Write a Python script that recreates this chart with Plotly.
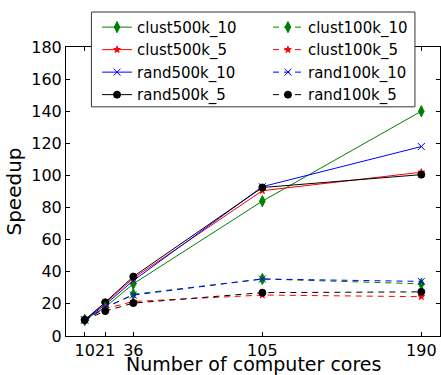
import plotly.graph_objects as go

cores = [10, 21, 36, 105, 190]
clust500k_10 = [10, 18, 32.5, 84, 140]
clust500k_5 = [10, 20.5, 36, 90.5, 102]
rand500k_10 = [10, 19.5, 34.5, 93, 118]
rand500k_5 = [10, 21, 37, 92.5, 100.5]
clust100k_10 = [10, 17.5, 26, 35.5, 32.5]
clust100k_5 = [10, 17, 21.5, 25.5, 24.5]
rand100k_10 = [10, 18, 25.5, 35.5, 34]
rand100k_5 = [10, 15.5, 20.5, 27, 27.5]

x_ticks = [10, 21, 36, 105, 190]
y_ticks = list(range(0, 181, 20))

FONT = "DejaVu Sans"

series = [
    ("clust500k_10", clust500k_10, "#008000", "diamond-tall", 8, "solid", "legend"),
    ("clust500k_5", clust500k_5, "#ff0000", "star", 5, "solid", "legend"),
    ("rand500k_10", rand500k_10, "#0000ff", "x-thin", 7, "solid", "legend"),
    ("rand500k_5", rand500k_5, "#000000", "circle", 7, "solid", "legend"),
    ("clust100k_10", clust100k_10, "#008000", "diamond-tall", 8, "6px,5px", "legend2"),
    ("clust100k_5", clust100k_5, "#ff0000", "star", 5, "6px,5px", "legend2"),
    ("rand100k_10", rand100k_10, "#0000ff", "x-thin", 7, "6px,5px", "legend2"),
    ("rand100k_5", rand100k_5, "#000000", "circle", 7, "6px,5px", "legend2"),
]

fig = go.Figure()
for name, vals, col, sym, size, dash, leg in series:
    fig.add_trace(go.Scatter(
        x=cores, y=vals, name=name, mode="lines+markers",
        line=dict(color=col, width=1, dash=dash),
        marker=dict(symbol=sym, size=size, color=col,
                    line=dict(color=col, width=1)),
        legend=leg,
    ))

axis_common = dict(
    showline=True, linecolor="#000000", linewidth=1, mirror="ticks",
    ticks="inside", ticklen=4, tickcolor="#000000", tickwidth=1,
    showgrid=False, zeroline=False, automargin=False,
    tickfont=dict(family=FONT, size=16, color="#000000"),
)

fig.update_layout(
    width=441, height=375,
    template="none",
    paper_bgcolor="white", plot_bgcolor="white",
    margin=dict(l=66, r=1, t=47, b=39),
    font=dict(family=FONT, color="#000000"),
    xaxis=dict(range=[0, 200], tickvals=x_ticks,
               ticktext=[str(v) for v in x_ticks], tickangle=0,
               **axis_common),
    yaxis=dict(range=[0, 180], tickvals=y_ticks, tickangle=0,
               title=dict(text="Speedup", font=dict(family=FONT, size=20),
                          standoff=4),
               **axis_common),
    legend=dict(x=0.083, y=1.125, xanchor="left", yanchor="top",
                bgcolor="rgba(0,0,0,0)", borderwidth=0,
                font=dict(family=FONT, size=15)),
    legend2=dict(x=0.54, y=1.125, xanchor="left", yanchor="top",
                 bgcolor="rgba(0,0,0,0)", borderwidth=0,
                 font=dict(family=FONT, size=15)),
    shapes=[dict(type="rect", xref="paper", yref="paper",
                 x0=0.068, x1=0.933, y0=0.793, y1=1.121,
                 line=dict(color="#333333", width=1),
                 fillcolor="white", layer="above")],
    annotations=[dict(text="Number of computer cores", xref="paper", yref="paper",
                      x=0.5, y=-0.097, xanchor="center", yanchor="middle",
                      showarrow=False, font=dict(family=FONT, size=19))],
)

fig.write_html("out.html")
